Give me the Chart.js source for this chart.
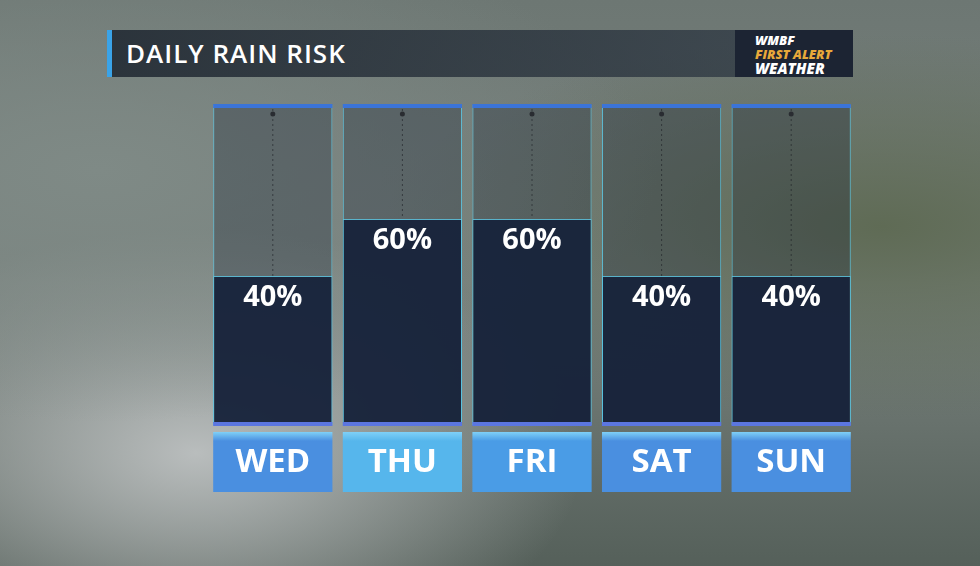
<!DOCTYPE html>
<html><head><meta charset="utf-8">
<script src="https://cdn.jsdelivr.net/npm/chart.js@4"></script>
<style>
html,body{margin:0;padding:0;width:980px;height:566px;overflow:hidden;font-family:"Open Sans",sans-serif}
#bg{position:absolute;left:0;top:0;width:980px;height:566px;
background:radial-gradient(ellipse at 10% 30%,#7f8a86 0%,transparent 45%),radial-gradient(ellipse at 90% 40%,#5f6b55 0%,transparent 40%),radial-gradient(ellipse at 20% 80%,#b9bdbd 0%,transparent 35%),linear-gradient(180deg,#6d7773 0%,#7a837f 50%,#55605a 100%);}
#title{position:absolute;left:107px;top:30px;width:628px;height:47px;background:linear-gradient(90deg,rgba(30,38,48,.85),rgba(40,50,62,.7));border-left:5px solid #3aa3e8;box-sizing:border-box;color:#fff;font:600 26px "Open Sans",sans-serif;line-height:47px;padding-left:14px;letter-spacing:1px}
#logo{position:absolute;left:735px;top:30px;width:118px;height:47px;background:#1c2433;color:#fff;font:italic 900 13px "Open Sans",sans-serif;line-height:14px;padding:3px 0 0 20px;box-sizing:border-box}
canvas{position:absolute;left:0;top:0}
</style></head><body>
<div id="bg"></div>
<div id="title">DAILY RAIN RISK</div>
<div id="logo">WMBF<br><span style="color:#e8a93a">FIRST ALERT</span><br><span style="font-size:15px">WEATHER</span></div>
<canvas id="c" width="980" height="566"></canvas>
<script>
const days=["WED","THU","FRI","SAT","SUN"];
const rainRisk=[40,60,60,40,40];
const fullColumn=[100,100,100,100,100];
const boxColors=["#4a8fe0","#56b6ec","#4a9ce6","#4a8fe0","#4a8fe0"];
const AXIS_MIN=-12.3;

const deco={id:'deco',
 beforeDatasetsDraw(ch){const c=ch.ctx;
  const meta=ch.getDatasetMeta(1);
  meta.data.forEach((b,i)=>{const top=ch.getDatasetMeta(0).data[i].y;
   c.save();c.strokeStyle='rgba(30,30,30,.6)';c.setLineDash([2,3]);c.lineWidth=1;
   c.beginPath();c.moveTo(b.x,top+4);c.lineTo(b.x,b.y);c.stroke();
   c.fillStyle='#333';c.beginPath();c.arc(b.x,top+9,2.5,0,7);c.fill();c.restore();});},
 afterDatasetsDraw(ch){const c=ch.ctx,y=ch.scales.y;
  const m0=ch.getDatasetMeta(0),m1=ch.getDatasetMeta(1);
  m0.data.forEach((b,i)=>{const w=b.width;
   c.fillStyle='#3b74d8';c.fillRect(b.x-w/2,b.y-1,w,4);
   c.fillStyle='#5b76e0';c.fillRect(b.x-w/2,y.bottom-3,w,4);
   const g=c.createLinearGradient(0,432,0,492);g.addColorStop(0,'#7fd0f7');g.addColorStop(0.15,boxColors[i]);g.addColorStop(1,boxColors[i]);
   c.fillStyle=g;c.fillRect(b.x-w/2,432,w,60);
   c.fillStyle='#fff';c.font='bold 33px "Open Sans",sans-serif';c.textAlign='center';c.textBaseline='middle';
   c.fillText(days[i],b.x,463);
   const bb=m1.data[i];c.font='bold 29px "Open Sans",sans-serif';
   c.fillText(rainRisk[i]+'%',bb.x,bb.y+22);});}};

new Chart(document.getElementById('c'),{type:'bar',
 data:{labels:days,datasets:[
  {data:fullColumn,base:AXIS_MIN,backgroundColor:'rgba(20,30,45,.3)',borderColor:'rgba(90,200,230,.8)',borderWidth:1,grouped:false,barPercentage:0.92,categoryPercentage:1,order:2},
  {data:rainRisk,base:AXIS_MIN,backgroundColor:'rgba(22,34,58,.92)',borderColor:'rgba(90,200,230,.8)',borderWidth:1,grouped:false,barPercentage:0.92,categoryPercentage:1,order:1}]},
 options:{responsive:false,animation:false,events:[],
  layout:{padding:{left:208,right:124,top:105,bottom:141}},
  plugins:{legend:{display:false},tooltip:{enabled:false}},
  scales:{x:{display:false},y:{display:false,min:AXIS_MIN,max:100}}},
 plugins:[deco]});
</script></body></html>
